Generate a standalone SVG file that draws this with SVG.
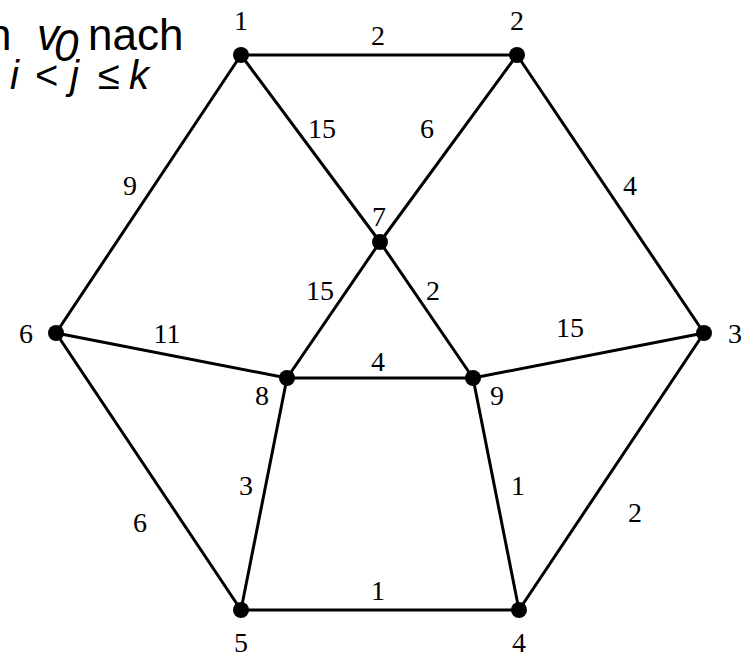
<svg xmlns="http://www.w3.org/2000/svg" width="755" height="660" viewBox="0 0 755 660">
<style>
.e{stroke:#000;stroke-width:3;fill:none;stroke-linecap:round}
.n{fill:#000}
.t{font-family:"Liberation Serif","Times New Roman",serif;font-size:28px;fill:#000;text-anchor:middle}
.h{font-family:"Liberation Sans",Arial,sans-serif;font-size:44px;fill:#000}
.h2{font-family:"Liberation Sans",Arial,sans-serif;font-size:40px;fill:#000}
.i{font-style:italic}
</style>
<rect width="755" height="660" fill="#fff"/>
<g id="heading">
<text class="h" x="-13" y="50">n</text>
<text class="h i" x="37" y="50">v</text>
<text class="h i" x="54" y="61" font-size="30">0</text>
<text class="h" x="88" y="50">nach</text>
<text class="h2 i" x="10" y="89">i</text>
<text class="h2" x="35" y="89">&lt;</text>
<text class="h2 i" x="70" y="89">j</text>
<text class="h2" x="98" y="89">≤</text>
<text class="h2 i" x="129" y="89">k</text>
</g>
<g id="edges">
<line class="e" x1="241" y1="55" x2="517" y2="55"/>
<line class="e" x1="241" y1="55" x2="56" y2="333"/>
<line class="e" x1="241" y1="55" x2="380" y2="242"/>
<line class="e" x1="517" y1="55" x2="380" y2="242"/>
<line class="e" x1="517" y1="55" x2="704" y2="333"/>
<line class="e" x1="704" y1="333" x2="519" y2="610"/>
<line class="e" x1="704" y1="333" x2="473" y2="378"/>
<line class="e" x1="519" y1="610" x2="241" y2="610"/>
<line class="e" x1="519" y1="610" x2="473" y2="378"/>
<line class="e" x1="241" y1="610" x2="56" y2="333"/>
<line class="e" x1="241" y1="610" x2="287" y2="378"/>
<line class="e" x1="56" y1="333" x2="287" y2="378"/>
<line class="e" x1="380" y1="242" x2="287" y2="378"/>
<line class="e" x1="380" y1="242" x2="473" y2="378"/>
<line class="e" x1="287" y1="378" x2="473" y2="378"/>
</g>
<g id="edge-labels">
<text class="t" x="378" y="45">2</text>
<text class="t" x="322" y="138">15</text>
<text class="t" x="427" y="138">6</text>
<text class="t" x="130" y="195">9</text>
<text class="t" x="630" y="195">4</text>
<text class="t" x="320" y="300">15</text>
<text class="t" x="433" y="300">2</text>
<text class="t" x="167" y="343">11</text>
<text class="t" x="570" y="337">15</text>
<text class="t" x="378" y="371">4</text>
<text class="t" x="246" y="495">3</text>
<text class="t" x="518" y="495">1</text>
<text class="t" x="635" y="522">2</text>
<text class="t" x="140" y="532">6</text>
<text class="t" x="378" y="600">1</text>
</g>
<g id="node1"><circle class="n" cx="241" cy="55" r="8"/><text class="t" x="241" y="30">1</text></g>
<g id="node2"><circle class="n" cx="517" cy="55" r="8"/><text class="t" x="517" y="30">2</text></g>
<g id="node3"><circle class="n" cx="704" cy="333" r="8"/><text class="t" x="735" y="343">3</text></g>
<g id="node4"><circle class="n" cx="519" cy="610" r="8"/><text class="t" x="519" y="652">4</text></g>
<g id="node5"><circle class="n" cx="241" cy="610" r="8"/><text class="t" x="241" y="652">5</text></g>
<g id="node6"><circle class="n" cx="56" cy="333" r="8"/><text class="t" x="26" y="343">6</text></g>
<g id="node7"><circle class="n" cx="380" cy="242" r="8"/><text class="t" x="379" y="226">7</text></g>
<g id="node8"><circle class="n" cx="287" cy="378" r="8"/><text class="t" x="262" y="405">8</text></g>
<g id="node9"><circle class="n" cx="473" cy="378" r="8"/><text class="t" x="497" y="405">9</text></g>
</svg>
